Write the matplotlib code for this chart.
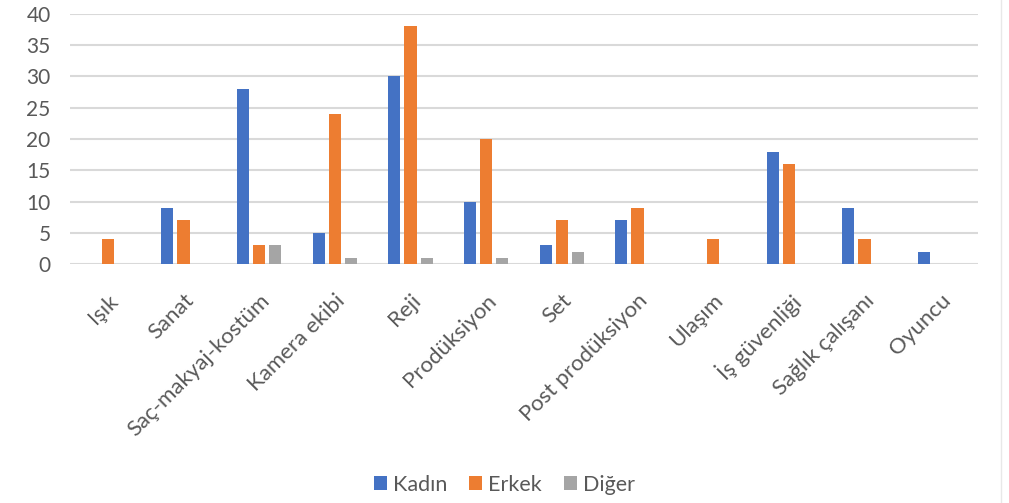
import matplotlib.pyplot as plt
import numpy as np

plt.rcParams['font.family'] = ['Lato', 'DejaVu Sans']

categories = ["Işık", "Sanat", "Saç-makyaj-kostüm", "Kamera ekibi", "Reji",
              "Prodüksiyon", "Set", "Post prodüksiyon", "Ulaşım",
              "İş güvenliği", "Sağlık çalışanı", "Oyuncu"]
kadin = [0, 9, 28, 5, 30, 10, 3, 7, 0, 18, 9, 2]
erkek = [4, 7, 3, 24, 38, 20, 7, 9, 4, 16, 4, 0]
diger = [0, 0, 3, 1, 1, 1, 2, 0, 0, 0, 0, 0]
series = [("Kadın", kadin, "#4472C4"),
          ("Erkek", erkek, "#ED7D31"),
          ("Diğer", diger, "#A5A5A5")]

fig = plt.figure(figsize=(10.09, 5.03), dpi=100)
ax = fig.add_axes([70 / 1009, 1 - 264 / 503, 908 / 1009, 250 / 503])

x = np.arange(len(categories))
width = 0.16
step = 0.215
for i, (name, vals, color) in enumerate(series):
    ax.bar(x + (i - 1) * step, vals, width, color=color, label=name, zorder=3)

ax.set_xlim(-0.5, len(categories) - 0.5)
ax.set_ylim(0, 40)
ax.set_yticks(range(0, 41, 5))
ax.grid(axis='y', color='#D9D9D9', linewidth=1.5, zorder=0)
for s in ax.spines.values():
    s.set_visible(False)
ax.tick_params(axis='both', length=0, colors='#595959')
ax.tick_params(axis='y', pad=14, labelsize=15)
ax.set_xticks(x)
ax.set_xticklabels(categories, rotation=45, ha='right', rotation_mode='anchor')
ax.tick_params(axis='x', pad=19, labelsize=16)

fig.legend(loc='lower center', bbox_to_anchor=(0.5, -0.022), ncol=3, frameon=False,
           fontsize=15.5, handlelength=0.6, handleheight=0.6, handletextpad=0.3,
           columnspacing=1.0, labelcolor='#595959')

fig.add_artist(plt.Line2D([1001 / 1009, 1001 / 1009], [0, 1], color='#E8E8E8', lw=1))

fig.savefig("out.png", dpi=100)
